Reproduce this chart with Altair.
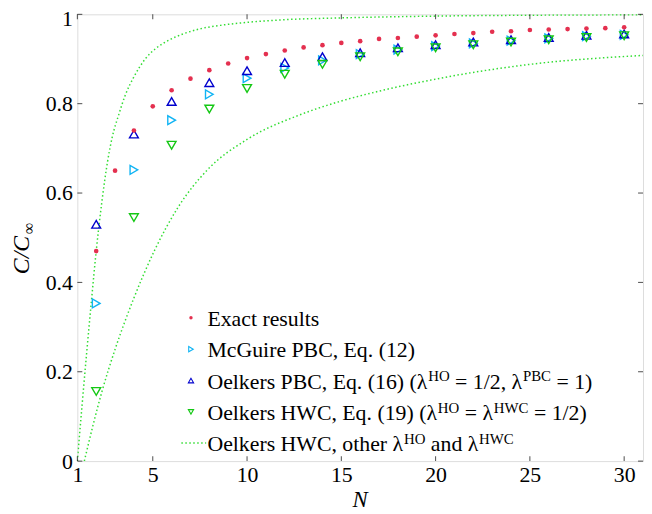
import altair as alt
import pandas as pd

# ---------------- data ----------------
N_exact = list(range(2, 31))
C_exact = [0.470, 0.650, 0.740, 0.794, 0.830, 0.856, 0.875, 0.890, 0.902, 0.911,
           0.919, 0.926, 0.931, 0.936, 0.940, 0.945, 0.947, 0.950, 0.953, 0.956,
           0.958, 0.961, 0.962, 0.965, 0.966, 0.967, 0.968, 0.969, 0.971]

N_even = list(range(2, 31, 2))
C_mcguire = [0.353, 0.652, 0.763, 0.821, 0.857, 0.880, 0.897, 0.911, 0.921, 0.929,
             0.935, 0.941, 0.946, 0.951, 0.954]
C_oelkers_pbc = [0.530, 0.732, 0.805, 0.847, 0.874, 0.892, 0.905, 0.914, 0.925, 0.932,
                 0.938, 0.943, 0.948, 0.953, 0.956]
C_oelkers_hwc = [0.156, 0.545, 0.707, 0.788, 0.834, 0.866, 0.888, 0.905, 0.916, 0.925,
                 0.932, 0.938, 0.943, 0.948, 0.952]

N_upper = [1.0, 1.25, 1.5, 1.75, 2.0, 2.3, 2.6, 2.85, 3.2, 3.55, 4.0, 4.6, 5.2, 5.8,
           6.6, 7.56, 8.7, 10, 12, 15, 20, 25, 31]
C_upper = [0.0, 0.125, 0.245, 0.36, 0.47, 0.58, 0.67, 0.725, 0.776, 0.82, 0.86, 0.90,
           0.925, 0.941, 0.956, 0.968, 0.976, 0.982, 0.988, 0.992, 0.996, 0.998, 0.999]

N_lower = [1.37, 1.8, 2.3, 3.0, 4.0, 5.1, 6.34, 7.9, 10, 12.8, 15, 17, 20, 25, 31]
C_lower = [0.0, 0.075, 0.155, 0.25, 0.365, 0.472, 0.568, 0.652, 0.72, 0.775, 0.806,
           0.828, 0.855, 0.888, 0.908]

x_ticks = [1, 5, 10, 15, 20, 25, 30]
y_ticks = [0, 0.2, 0.4, 0.6, 0.8, 1]

legend_rows = [
    [("Exact results", "b")],
    [("McGuire PBC, Eq. (12)", "b")],
    [("Oelkers PBC, Eq. (16) (λ", "b"), ("HO", "s"), (" = 1/2, λ", "b"), ("PBC", "s"), (" = 1)", "b")],
    [("Oelkers HWC, Eq. (19) (λ", "b"), ("HO", "s"), (" = λ", "b"), ("HWC", "s"), (" = 1/2)", "b")],
    [("Oelkers HWC, other λ", "b"), ("HO", "s"), (" and λ", "b"), ("HWC", "s")],
]

# ---------------- styling / layout ----------------
W, H = 571, 451
FONT = "Liberation Serif, DejaVu Serif, Times New Roman, serif"
FS = 22
FS_SUP = 15
RED = "#e4304f"
CYAN = "#10b4f4"
BLUE = "#0000cd"
GREEN = "#14c814"
LGREEN = "#33dd33"

xs = alt.Scale(domain=[1, 31], nice=False, zero=False)
ys = alt.Scale(domain=[0, 1], nice=False, zero=False)
xaxis = alt.Axis(values=x_ticks, title=None, ticks=False, domain=False, grid=False,
                 labelFont=FONT, labelFontSize=FS, labelPadding=4, labelColor="black",
                 format="~g", labelFlush=False, labelOverlap=False)
yaxis = alt.Axis(values=y_ticks, title=None, ticks=False, domain=False, grid=False,
                 labelFont=FONT, labelFontSize=FS, labelPadding=5, labelColor="black",
                 format="~g", labelFlush=False, labelOverlap=False,
                 labelOffset={"condition": {"test": "datum.value === 1", "value": 4}, "value": 0})


def X(f):
    return alt.X(f"{f}:Q", scale=xs, axis=xaxis)


def Y(f):
    return alt.Y(f"{f}:Q", scale=ys, axis=yaxis)


df_exact = pd.DataFrame({"N": N_exact, "C": C_exact})
df_even = pd.DataFrame({"N": N_even, "McG": C_mcguire, "PBC": C_oelkers_pbc, "HWC": C_oelkers_hwc})
df_curves = pd.concat([
    pd.DataFrame({"N": N_upper, "C": C_upper, "curve": "upper"}),
    pd.DataFrame({"N": N_lower, "C": C_lower, "curve": "lower"}),
])

curves = alt.Chart(df_curves).mark_line(
    color=LGREEN, strokeDash=[1.5, 2.5], strokeWidth=1.5, interpolate="monotone", clip=True
).encode(x=X("N"), y=Y("C"), detail="curve:N")

tri_size = 80
mcg = alt.Chart(df_even).mark_point(shape="triangle-right", filled=False, size=tri_size,
                                    color=CYAN, strokeWidth=1.4, opacity=1).encode(x=X("N"), y=Y("McG"))
pbc = alt.Chart(df_even).mark_point(shape="triangle-up", filled=False, size=tri_size,
                                    color=BLUE, strokeWidth=1.4, opacity=1).encode(x=X("N"), y=Y("PBC"))
hwc = alt.Chart(df_even).mark_point(shape="triangle-down", filled=False, size=tri_size,
                                    color=GREEN, strokeWidth=1.4, opacity=1).encode(x=X("N"), y=Y("HWC"))
exact = alt.Chart(df_exact).mark_point(shape="circle", filled=True, size=22, color=RED,
                                       opacity=1).encode(x=X("N"), y=Y("C"))

# inward ticks on all four sides
df_xt = pd.DataFrame({"t": x_ticks})
df_yt = pd.DataFrame({"t": y_ticks})
TL = 5
tick_top = alt.Chart(df_xt).mark_tick(orient="vertical", size=TL, thickness=1, color="black").encode(
    x=X("t"), y=alt.value(TL / 2))
tick_bot = alt.Chart(df_xt).mark_tick(orient="vertical", size=TL, thickness=1, color="black").encode(
    x=X("t"), y=alt.value(H - TL / 2))
tick_left = alt.Chart(df_yt).mark_tick(orient="horizontal", size=TL, thickness=1, color="black").encode(
    y=Y("t"), x=alt.value(TL / 2))
tick_right = alt.Chart(df_yt).mark_tick(orient="horizontal", size=TL, thickness=1, color="black").encode(
    y=Y("t"), x=alt.value(W - TL / 2))

# ---------------- legend (manual, for superscripts) ----------------
TW = {' ': 250, '(': 333, ')': 333, ',': 250, '.': 250, '/': 278, '=': 564,
      'A': 722, 'B': 667, 'C': 667, 'E': 611, 'G': 722, 'H': 722, 'M': 889, 'O': 722,
      'P': 556, 'W': 944, 'a': 444, 'c': 444, 'd': 500, 'e': 444, 'h': 500, 'i': 278,
      'k': 500, 'l': 278, 'n': 500, 'o': 500, 'q': 500, 'r': 333, 's': 389, 't': 278,
      'u': 500, 'x': 500, 'λ': 520}


def tw(s, fs):
    return sum(TW.get(ch, 500) for ch in s) * fs / 1000.0


LEG_SYM_X = 114.7
LEG_TXT_X = 131.3
LEG_ROW_Y = [306.3, 338.0, 369.7, 401.3, 432.7]
recs = []
for r, segs in enumerate(legend_rows):
    cur = LEG_TXT_X
    base_y = LEG_ROW_Y[r] + 8.4
    for s, kind in segs:
        fs = FS if kind == "b" else FS_SUP
        y = base_y if kind == "b" else base_y - 7.5
        stripped = s.lstrip()
        cur += tw(s[:len(s) - len(stripped)], fs)
        recs.append({"px": cur, "py": y, "text": stripped, "fs": fs})
        cur += tw(stripped, fs)
df_leg = pd.DataFrame(recs)

leg_text = alt.Chart(df_leg).mark_text(align="left", baseline="alphabetic", font=FONT,
                                       color="black").encode(
    x=alt.X("px:Q", scale=None, axis=None),
    y=alt.Y("py:Q", scale=None, axis=None),
    text="text:N",
    size=alt.Size("fs:Q", scale=None, legend=None),
)

one = pd.DataFrame({"a": [0]})
leg_exact = alt.Chart(one).mark_point(shape="circle", filled=True, size=12, color=RED, opacity=1).encode(
    x=alt.value(LEG_SYM_X), y=alt.value(LEG_ROW_Y[0]))
leg_mcg = alt.Chart(one).mark_point(shape="triangle-right", filled=False, size=28, color=CYAN,
                                    strokeWidth=1.1, opacity=1).encode(
    x=alt.value(LEG_SYM_X), y=alt.value(LEG_ROW_Y[1]))
leg_pbc = alt.Chart(one).mark_point(shape="triangle-up", filled=False, size=28, color=BLUE,
                                    strokeWidth=1.1, opacity=1).encode(
    x=alt.value(LEG_SYM_X), y=alt.value(LEG_ROW_Y[2]))
leg_hwc = alt.Chart(one).mark_point(shape="triangle-down", filled=False, size=28, color=GREEN,
                                    strokeWidth=1.1, opacity=1).encode(
    x=alt.value(LEG_SYM_X), y=alt.value(LEG_ROW_Y[3]))
leg_line = alt.Chart(one).mark_rule(color=LGREEN, strokeDash=[1.5, 2.5], strokeWidth=1.5).encode(
    x=alt.value(105), x2=alt.value(130), y=alt.value(LEG_ROW_Y[4]))

# ---------------- axis titles (manual) ----------------
ytitle = alt.Chart(one).mark_text(text="C/C", font=FONT, fontSize=24, fontStyle="italic",
                                  angle=270, align="center", baseline="middle", color="black").encode(
    x=alt.value(-56), y=alt.value(243))
ytitle_sub = alt.Chart(one).mark_text(text="∞", font=FONT, fontSize=16, angle=270,
                                      align="center", baseline="middle", color="black").encode(
    x=alt.value(-49), y=alt.value(216))
xtitle = alt.Chart(one).mark_text(text="N", font=FONT, fontSize=23, fontStyle="italic",
                                  align="center", baseline="middle", color="black").encode(
    x=alt.value(W / 2), y=alt.value(H + 39))

chart = alt.layer(
    curves, mcg, pbc, hwc, exact,
    tick_top, tick_bot, tick_left, tick_right,
    leg_text, leg_exact, leg_mcg, leg_pbc, leg_hwc, leg_line,
    ytitle, ytitle_sub, xtitle,
).properties(
    width=W, height=H,
    autosize=alt.AutoSizeParams(type="none"),
    padding={"left": 70, "top": 4, "right": 1, "bottom": 50},
).configure_view(
    stroke="black", strokeWidth=1.4
).configure(background="white")

chart.save("out.html", embed_options={"renderer": "svg", "actions": False})
